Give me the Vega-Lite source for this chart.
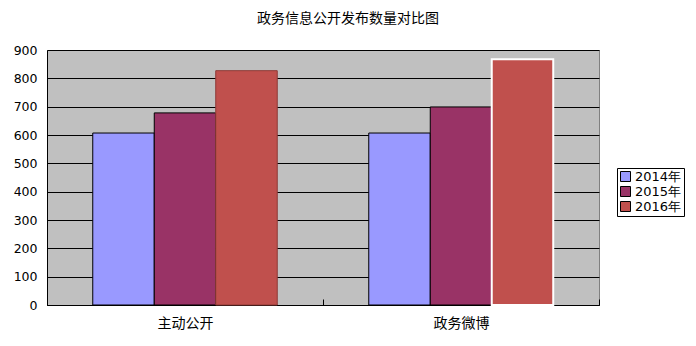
{
  "$schema": "https://vega.github.io/schema/vega-lite/v6.json",
  "width": 552,
  "height": 255,
  "autosize": {"type": "none"},
  "padding": {"left": 47, "top": 50, "right": 97, "bottom": 41},
  "background": "white",
  "title": {
    "text": "政务信息公开发布数量对比图",
    "font": "Noto Sans CJK SC",
    "fontSize": 14,
    "fontWeight": "normal",
    "color": "black",
    "anchor": "middle",
    "dx": 25,
    "offset": 18
  },
  "data": {
    "values": [
      {"category": "主动公开", "year": "2014年", "value": 607},
      {"category": "主动公开", "year": "2015年", "value": 678},
      {"category": "主动公开", "year": "2016年", "value": 827},
      {"category": "政务微博", "year": "2014年", "value": 607},
      {"category": "政务微博", "year": "2015年", "value": 699},
      {"category": "政务微博", "year": "2016年", "value": 867}
    ]
  },
  "mark": {"type": "bar", "strokeWidth": 1},
  "encoding": {
    "x": {
      "field": "category",
      "type": "nominal",
      "sort": null,
      "scale": {"paddingInner": 0, "paddingOuter": 0},
      "axis": {
        "title": null,
        "labelAngle": 0,
        "labelFont": "Noto Sans CJK SC",
        "labelFontSize": 14,
        "labelColor": "black",
        "labelPadding": 17,
        "domainColor": "black",
        "tickColor": "black",
        "tickSize": -6,
        "tickBand": "extent",
        "grid": false
      }
    },
    "xOffset": {
      "field": "year",
      "type": "nominal",
      "scale": {"paddingInner": 0, "paddingOuter": 0.744}
    },
    "y": {
      "field": "value",
      "type": "quantitative",
      "scale": {"domain": [0, 900]},
      "axis": {
        "title": null,
        "values": [0, 100, 200, 300, 400, 500, 600, 700, 800, 900],
        "labelOverlap": false,
        "labelFont": "DejaVu Sans",
        "labelFontSize": 12.5,
        "labelColor": "black",
        "labelPadding": 10,
        "ticks": false,
        "domainColor": "black",
        "grid": true,
        "gridColor": "black",
        "gridOpacity": 1
      }
    },
    "fill": {
      "field": "year",
      "type": "nominal",
      "scale": {"domain": ["2014年", "2015年", "2016年"], "range": ["#9999FF", "#993366", "#C0504D"]},
      "legend": {
        "title": null,
        "orient": "none",
        "legendX": 570,
        "legendY": 118,
        "strokeColor": "black",
        "padding": 2,
        "symbolType": "square",
        "symbolSize": 100,
        "symbolStrokeColor": "black",
        "symbolStrokeWidth": 1,
        "labelFont": "DejaVu Sans",
        "labelFontSize": 13,
        "labelColor": "black",
        "labelOffset": 3,
        "rowPadding": 0
      }
    },
    "stroke": {
      "condition": [
        {"test": "datum.year === '2016年' && datum.category === '政务微博'", "value": "white"},
        {"test": "datum.year === '2016年'", "value": "#8E3A37"}
      ],
      "value": "black"
    },
    "strokeWidth": {
      "condition": {"test": "datum.year === '2016年' && datum.category === '政务微博'", "value": 2},
      "value": 1
    }
  },
  "config": {
    "view": {"fill": "#C0C0C0", "stroke": "#808080"}
  }
}
